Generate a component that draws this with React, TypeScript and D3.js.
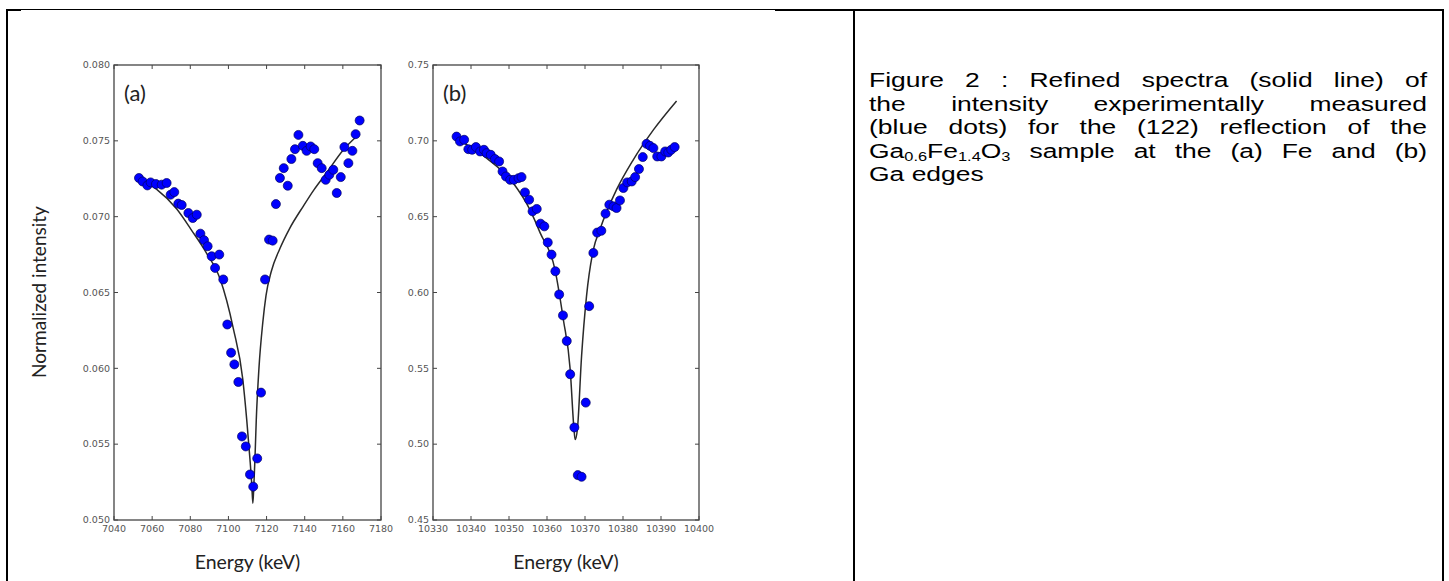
import React, { useEffect, useRef } from 'react';
import * as d3 from 'd3';

const W = 1449;
const H = 581;

// ---------- Panel (a): Fe edge ----------
const feDotEnergy = [7053.1, 7055.0, 7057.5, 7059.2, 7062.0, 7065.0, 7067.6, 7069.7, 7071.6, 7073.7, 7075.5, 7079.0, 7081.3, 7083.4, 7085.3, 7087.2, 7089.1, 7091.2, 7093.0, 7095.2, 7097.3, 7099.4, 7101.4, 7103.1, 7105.2, 7107.1, 7109.1, 7111.3, 7113.0, 7115.1, 7117.1, 7119.2, 7121.3, 7123.2, 7124.9, 7127.0, 7129.0, 7131.1, 7133.0, 7134.9, 7136.7, 7139.0, 7141.0, 7143.1, 7145.0, 7146.8, 7148.9, 7151.0, 7152.9, 7155.0, 7156.8, 7158.9, 7160.8, 7162.9, 7165.0, 7166.7, 7168.8];
const feDotIntensity = [0.07255, 0.07232, 0.07206, 0.07226, 0.07215, 0.07211, 0.07222, 0.07145, 0.07162, 0.07086, 0.07077, 0.07024, 0.06991, 0.07013, 0.06888, 0.06845, 0.06805, 0.06739, 0.06662, 0.0675, 0.06586, 0.06289, 0.06103, 0.06026, 0.0591, 0.05551, 0.05485, 0.053, 0.0522, 0.05406, 0.0584, 0.06586, 0.06849, 0.06842, 0.07083, 0.07255, 0.0732, 0.07204, 0.0738, 0.07445, 0.07539, 0.07467, 0.07434, 0.07463, 0.07445, 0.07353, 0.0732, 0.07243, 0.07276, 0.07309, 0.07156, 0.07261, 0.07459, 0.07353, 0.07434, 0.07544, 0.07634];
const feFitEnergy = [7053, 7062.4, 7072.9, 7080.7, 7088.5, 7095.6, 7102.6, 7107.5, 7109.6, 7111.3, 7112.3, 7112.8, 7113.3, 7113.9, 7114.6, 7116.0, 7118.0, 7119.7, 7122.5, 7127.0, 7132.0, 7139.3, 7145.0, 7151.5, 7160.2, 7167.3];
const feFitIntensity = [0.0725, 0.0718, 0.0705, 0.0691, 0.0676, 0.0659, 0.0626, 0.0593, 0.0566, 0.0540, 0.0522, 0.0511, 0.0522, 0.0540, 0.0566, 0.0600, 0.0630, 0.0648, 0.0664, 0.0679, 0.0692, 0.0707, 0.0718, 0.0729, 0.0744, 0.0753];
const feXTicks = [7040, 7060, 7080, 7100, 7120, 7140, 7160, 7180];
const feYTicks = [0.05, 0.055, 0.06, 0.065, 0.07, 0.075, 0.08];

// ---------- Panel (b): Ga edge ----------
const gaDotEnergy = [10336.2, 10337.1, 10338.2, 10339.3, 10340.3, 10341.3, 10342.4, 10343.4, 10344.1, 10345.2, 10346.3, 10347.4, 10348.3, 10349.2, 10350.3, 10351.3, 10352.5, 10353.3, 10354.2, 10355.3, 10356.2, 10357.3, 10358.3, 10359.3, 10360.2, 10361.2, 10362.2, 10363.2, 10364.2, 10365.2, 10366.1, 10367.2, 10368.1, 10369.1, 10370.2, 10371.1, 10372.2, 10373.2, 10374.3, 10375.4, 10376.4, 10377.5, 10378.3, 10379.2, 10380.1, 10381.1, 10382.3, 10383.2, 10384.2, 10385.2, 10386.2, 10387.1, 10388.0, 10389.0, 10390.1, 10391.1, 10391.9, 10392.7, 10393.6];
const gaDotIntensity = [0.7028, 0.6996, 0.7007, 0.6945, 0.6941, 0.6959, 0.693, 0.6941, 0.6919, 0.6908, 0.688, 0.6864, 0.6798, 0.6765, 0.6743, 0.6743, 0.6754, 0.6761, 0.666, 0.6612, 0.6535, 0.6551, 0.6454, 0.6436, 0.633, 0.625, 0.614, 0.5987, 0.5849, 0.568, 0.5461, 0.511, 0.4796, 0.4785, 0.5274, 0.591, 0.6261, 0.6395, 0.6407, 0.652, 0.6579, 0.6568, 0.6557, 0.6607, 0.6689, 0.6726, 0.6732, 0.6761, 0.6814, 0.6893, 0.698, 0.6967, 0.6952, 0.6897, 0.6897, 0.693, 0.6923, 0.6941, 0.6959];
const gaFitEnergy = [10336.5, 10344.1, 10351.1, 10355.5, 10358.2, 10362.1, 10364.3, 10366.1, 10367.1, 10367.4, 10368.0, 10369.1, 10370.4, 10372.2, 10373.9, 10378.3, 10382.7, 10388.0, 10394.1];
const gaFitIntensity = [0.701, 0.6886, 0.6722, 0.6546, 0.6393, 0.6151, 0.5822, 0.5493, 0.5099, 0.503, 0.5099, 0.5581, 0.5976, 0.6283, 0.6414, 0.6678, 0.6875, 0.7072, 0.7263];
const gaXTicks = [10330, 10340, 10350, 10360, 10370, 10380, 10390, 10400];
const gaYTicks = [0.45, 0.5, 0.55, 0.6, 0.65, 0.7, 0.75];

// ---------- Caption ----------
const captionLines = [
  'Figure 2 : Refined spectra (solid line) of',
  'the intensity experimentally measured',
  '(blue dots) for the (122) reflection of the',
  'Ga{0.6}Fe{1.4}O{3} sample at the (a) Fe and (b)',
  'Ga edges',
];

const AXIS_COLOR = '#444';
const TICK_FONT = '"DejaVu Sans", sans-serif';
const LABEL_FONT = 'Lato, "Open Sans", sans-serif';

type PanelProps = {
  left: number; right: number; top: number; bottom: number;
  xDomain: [number, number]; yDomain: [number, number];
  xTicks: number[]; yTicks: number[]; yFmt: string;
  dotX: number[]; dotY: number[]; fitX: number[]; fitY: number[];
  label: string;
};

function Panel(p: PanelProps) {
  const x = d3.scaleLinear().domain(p.xDomain).range([p.left, p.right]);
  const y = d3.scaleLinear().domain(p.yDomain).range([p.bottom, p.top]);
  const fmt = d3.format(p.yFmt);
  const fitPts = p.fitX.map((e, i) => [e, p.fitY[i]] as [number, number]);
  const line = d3.line<[number, number]>().x(d => x(d[0])).y(d => y(d[1])).curve(d3.curveMonotoneX);
  const tl = 4;
  return (
    <g>
      <path d={line(fitPts) || ''} fill="none" stroke="#2a2a2a" strokeWidth={1.5} />
      {p.dotX.map((e, i) => (
        <circle key={i} cx={x(e)} cy={y(p.dotY[i])} r={4.5} fill="#0000ff" stroke="#000060" strokeWidth={0.7} />
      ))}
      <rect x={p.left} y={p.top} width={p.right - p.left} height={p.bottom - p.top} fill="none" stroke={AXIS_COLOR} strokeWidth={1.3} />
      {p.xTicks.map((t, i) => (
        <g key={'x' + i}>
          <line x1={x(t)} x2={x(t)} y1={p.bottom} y2={p.bottom - tl} stroke={AXIS_COLOR} strokeWidth={1} />
          <line x1={x(t)} x2={x(t)} y1={p.top} y2={p.top + tl} stroke={AXIS_COLOR} strokeWidth={1} />
          <text x={x(t)} y={p.bottom + 12} textAnchor="middle" fontFamily={TICK_FONT} fontSize={9.5} fill="#555">{t}</text>
        </g>
      ))}
      {p.yTicks.map((t, i) => (
        <g key={'y' + i}>
          <line x1={p.left} x2={p.left + tl} y1={y(t)} y2={y(t)} stroke={AXIS_COLOR} strokeWidth={1} />
          <line x1={p.right} x2={p.right - tl} y1={y(t)} y2={y(t)} stroke={AXIS_COLOR} strokeWidth={1} />
          <text x={p.left - 4} y={y(t)} dy="0.35em" textAnchor="end" fontFamily={TICK_FONT} fontSize={9.5} fill="#555">{fmt(t)}</text>
        </g>
      ))}
      <text x={p.left + 10} y={p.top + 36} fontFamily={LABEL_FONT} fontSize={22} fill="#222">{p.label}</text>
      <text x={(p.left + p.right) / 2} y={569} textAnchor="middle" fontFamily={LABEL_FONT} fontSize={19.5} fill="#222">Energy (keV)</text>
    </g>
  );
}

export default function App() {
  const capRef = useRef<SVGGElement>(null);
  const capLeft = 869;
  const capRight = 1427;
  const capTop = 87;
  const capStep = 23.6;
  const capSize = 21;
  const capSx = 1.26;

  useEffect(() => {
    if (!capRef.current) return;
    const g = d3.select(capRef.current);
    g.selectAll('*').remove();
    const inner = g.append('g').attr('transform', `translate(${capLeft},0) scale(${capSx},1)`);
    const avail = (capRight - capLeft) / capSx;
    const space = capSize * 0.278;
    captionLines.forEach((ln, i) => {
      const words = ln.split(' ');
      const yy = capTop + i * capStep;
      const nodes = words.map(w => {
        const t = inner.append('text').attr('y', yy).attr('font-family', '"Liberation Sans", Arial, sans-serif').attr('font-size', capSize).attr('fill', '#000');
        const parts = w.split(/(\{[^}]*\})/).filter(s => s.length > 0);
        let sub = false;
        parts.forEach(part => {
          if (part.startsWith('{')) {
            t.append('tspan').attr('font-size', capSize * 0.62).attr('dy', sub ? 0 : 3.5).text(part.slice(1, -1));
            sub = true;
          } else {
            t.append('tspan').attr('dy', sub ? -3.5 : 0).text(part);
            sub = false;
          }
        });
        return t;
      });
      const widths = nodes.map(n => (n.node() as SVGTextElement).getComputedTextLength());
      const total = d3.sum(widths);
      const isLast = i === captionLines.length - 1;
      const gap = isLast ? space : Math.max(space * 0.6, (avail - total) / (words.length - 1));
      let xx = 0;
      nodes.forEach((n, k) => {
        n.attr('x', xx);
        xx += widths[k] + gap;
      });
    });
  }, []);

  return (
    <svg width={W} height={H} style={{ position: 'absolute', left: 0, top: 0, background: '#fff' }}>
      <rect x={0} y={0} width={W} height={H} fill="#fff" />
      {/* table borders */}
      <line x1={7} x2={775} y1={9.5} y2={9.5} stroke="#000" strokeWidth={1} />
      <rect x={6} y={9} width={15} height={2} fill="#000" />
      <line x1={775} x2={1444} y1={10} y2={10} stroke="#000" strokeWidth={2} />
      <line x1={7} x2={7} y1={9} y2={H} stroke="#000" strokeWidth={2} />
      <line x1={854} x2={854} y1={9} y2={H} stroke="#000" strokeWidth={2} />
      <line x1={1443} x2={1443} y1={9} y2={H} stroke="#000" strokeWidth={2} />

      <text transform="translate(46,292) rotate(-90)" textAnchor="middle" fontFamily={LABEL_FONT} fontSize={19} fill="#222">Normalized intensity</text>

      <Panel left={114} right={381} top={65} bottom={520}
        xDomain={[7040, 7180]} yDomain={[0.05, 0.08]}
        xTicks={feXTicks} yTicks={feYTicks} yFmt=".3f"
        dotX={feDotEnergy} dotY={feDotIntensity} fitX={feFitEnergy} fitY={feFitIntensity} label="(a)" />
      <Panel left={433} right={699} top={65} bottom={520}
        xDomain={[10330, 10400]} yDomain={[0.45, 0.75]}
        xTicks={gaXTicks} yTicks={gaYTicks} yFmt=".2f"
        dotX={gaDotEnergy} dotY={gaDotIntensity} fitX={gaFitEnergy} fitY={gaFitIntensity} label="(b)" />

      <g ref={capRef} />
    </svg>
  );
}
